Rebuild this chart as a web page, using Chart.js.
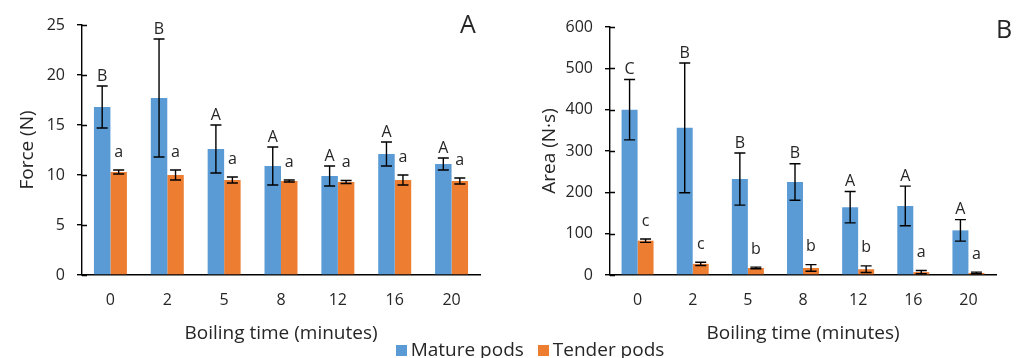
<!DOCTYPE html>
<html>
<head>
<meta charset="utf-8">
<script src="https://cdn.jsdelivr.net/npm/chart.js@4"></script>
<style>
  body { margin: 0; background: #fff; font-family: "Open Sans", sans-serif; color: #262626; }
  #wrap { position: relative; width: 1022px; height: 358px; overflow: hidden; }
  .box { position: absolute; top: 0; height: 358px; }
  .panel { position: absolute; font-size: 25px; line-height: 25px; }
  #legend { position: absolute; top: 336px; left: 0; width: 1060px; text-align: center; font-size: 19px; white-space: nowrap; }
  #legend span.sw { display: inline-block; width: 11px; height: 11px; margin-right: 4px; vertical-align: 0px; }
  #legend span.it { margin: 0 7px; }
</style>
</head>
<body>
<div id="wrap">
  <div class="box" style="left:0;width:500px"><canvas id="force"></canvas></div>
  <div class="box" style="left:500px;width:522px"><canvas id="area"></canvas></div>
  <div class="panel" style="left:460px;top:11px">A</div>
  <div class="panel" style="left:996px;top:16px">B</div>
  <div id="legend"></div>
</div>
<script>
// boiling time categories
const times = ['0', '2', '5', '8', '12', '16', '20'];
const seriesNames = ['Mature pods', 'Tender pods'];
const colors = ['#5B9BD5', '#ED7D31'];

// Force (N)
const forceMature = [16.8, 17.7, 12.6, 10.9, 9.9, 12.1, 11.1];
const forceMatureErr = [2.1, 5.9, 2.4, 1.9, 1.0, 1.2, 0.6];
const forceTender = [10.3, 10.0, 9.5, 9.4, 9.3, 9.5, 9.4];
const forceTenderErr = [0.2, 0.5, 0.3, 0.1, 0.15, 0.5, 0.3];
const forceMatureLetters = ['B', 'B', 'A', 'A', 'A', 'A', 'A'];
const forceTenderLetters = ['a', 'a', 'a', 'a', 'a', 'a', 'a'];

// Area (N·s)
const areaMature = [400, 356, 232, 225, 164, 167, 108];
const areaMatureErr = [73, 157, 63, 44, 38, 48, 26];
const areaTender = [83, 27, 17, 17, 14, 7, 5];
const areaTenderErr = [4, 4, 2, 8, 8, 4, 2];
const areaMatureLetters = ['C', 'B', 'B', 'B', 'A', 'A', 'A'];
const areaTenderLetters = ['c', 'c', 'b', 'b', 'b', 'a', 'a'];

const FONT = '"Open Sans", sans-serif';
const INK = '#262626';

// error bars + significance letters
const errorBars = {
  id: 'errorBars',
  afterDatasetsDraw(chart) {
    const ctx = chart.ctx;
    const y = chart.scales.y;
    ctx.save();
    chart.data.datasets.forEach((ds, i) => {
      const meta = chart.getDatasetMeta(i);
      meta.data.forEach((bar, j) => {
        const v = ds.data[j], e = ds.errors[j];
        const top = y.getPixelForValue(v + e);
        const bot = y.getPixelForValue(Math.max(v - e, 0));
        const cw = 5.5;
        ctx.strokeStyle = '#000';
        ctx.lineWidth = 1.4;
        ctx.beginPath();
        ctx.moveTo(bar.x, top); ctx.lineTo(bar.x, bot);
        ctx.moveTo(bar.x - cw, top); ctx.lineTo(bar.x + cw, top);
        ctx.moveTo(bar.x - cw, bot); ctx.lineTo(bar.x + cw, bot);
        ctx.stroke();
        ctx.fillStyle = INK;
        ctx.font = '16px ' + FONT;
        ctx.textAlign = 'center';
        ctx.textBaseline = 'middle';
        ctx.fillText(ds.letters[j], bar.x, top - ds.letterGap);
      });
    });
    ctx.restore();
  }
};

// y tick marks that cross the axis line
const crossTicks = {
  id: 'crossTicks',
  afterDraw(chart) {
    const ctx = chart.ctx;
    const y = chart.scales.y;
    const x0 = chart.chartArea.left;
    ctx.save();
    ctx.strokeStyle = '#000';
    ctx.lineWidth = 1.4;
    ctx.beginPath();
    y.ticks.forEach((t, i) => {
      const py = Math.round(y.getPixelForTick(i)) + 0.5;
      ctx.moveTo(x0, py); ctx.lineTo(x0 + 5, py);
    });
    ctx.stroke();
    ctx.restore();
  }
};

function makeChart(id, mature, matureErr, matureLetters, tender, tenderErr, tenderLetters, yMax, yStep, yTitle, pad, yWidth) {
  return new Chart(document.getElementById(id), {
    type: 'bar',
    data: {
      labels: times,
      datasets: [{
        label: seriesNames[0],
        data: mature,
        errors: matureErr,
        letters: matureLetters,
        letterGap: 10,
        backgroundColor: colors[0],
        categoryPercentage: 0.58,
        barPercentage: 1
      }, {
        label: seriesNames[1],
        data: tender,
        errors: tenderErr,
        letters: tenderLetters,
        letterGap: 18,
        backgroundColor: colors[1],
        categoryPercentage: 0.58,
        barPercentage: 1
      }]
    },
    options: {
      responsive: true,
      maintainAspectRatio: false,
      animation: false,
      layout: { padding: pad },
      plugins: { legend: { display: false }, tooltip: { enabled: false } },
      scales: {
        x: {
          grid: { display: false, drawTicks: false },
          border: { display: true, color: '#000', width: 1.4 },
          ticks: { color: INK, font: { family: FONT, size: 16 }, padding: 16 },
          title: { display: true, text: 'Boiling time (minutes)', color: INK, font: { family: FONT, size: 19 } },
          afterFit: s => { s.height = 358 - pad.bottom - 275; }
        },
        y: {
          min: 0,
          max: yMax,
          ticks: { stepSize: yStep, color: INK, font: { family: FONT, size: 16 }, padding: 12 },
          grid: { drawOnChartArea: false, tickLength: 5, color: '#000', lineWidth: 1.4 },
          border: { color: '#000', width: 1.4 },
          title: { display: true, text: yTitle, color: INK, font: { family: FONT, size: 19 } },
          afterFit: s => { s.width = yWidth; }
        }
      }
    },
    plugins: [errorBars, crossTicks]
  });
}

makeChart('force', forceMature, forceMatureErr, forceMatureLetters, forceTender, forceTenderErr, forceTenderLetters,
  25, 5, 'Force (N)', { left: 12, right: 20, top: 25, bottom: 9 }, 70);
makeChart('area', areaMature, areaMatureErr, areaMatureLetters, areaTender, areaTenderErr, areaTenderLetters,
  600, 100, 'Area (N·s)', { left: 34, right: 26, top: 27, bottom: 9 }, 76);

// shared legend
const legend = document.getElementById('legend');
seriesNames.forEach((name, i) => {
  const it = document.createElement('span');
  it.className = 'it';
  it.innerHTML = '<span class="sw" style="background:' + colors[i] + '"></span>' + name;
  legend.appendChild(it);
});
</script>
</body>
</html>
